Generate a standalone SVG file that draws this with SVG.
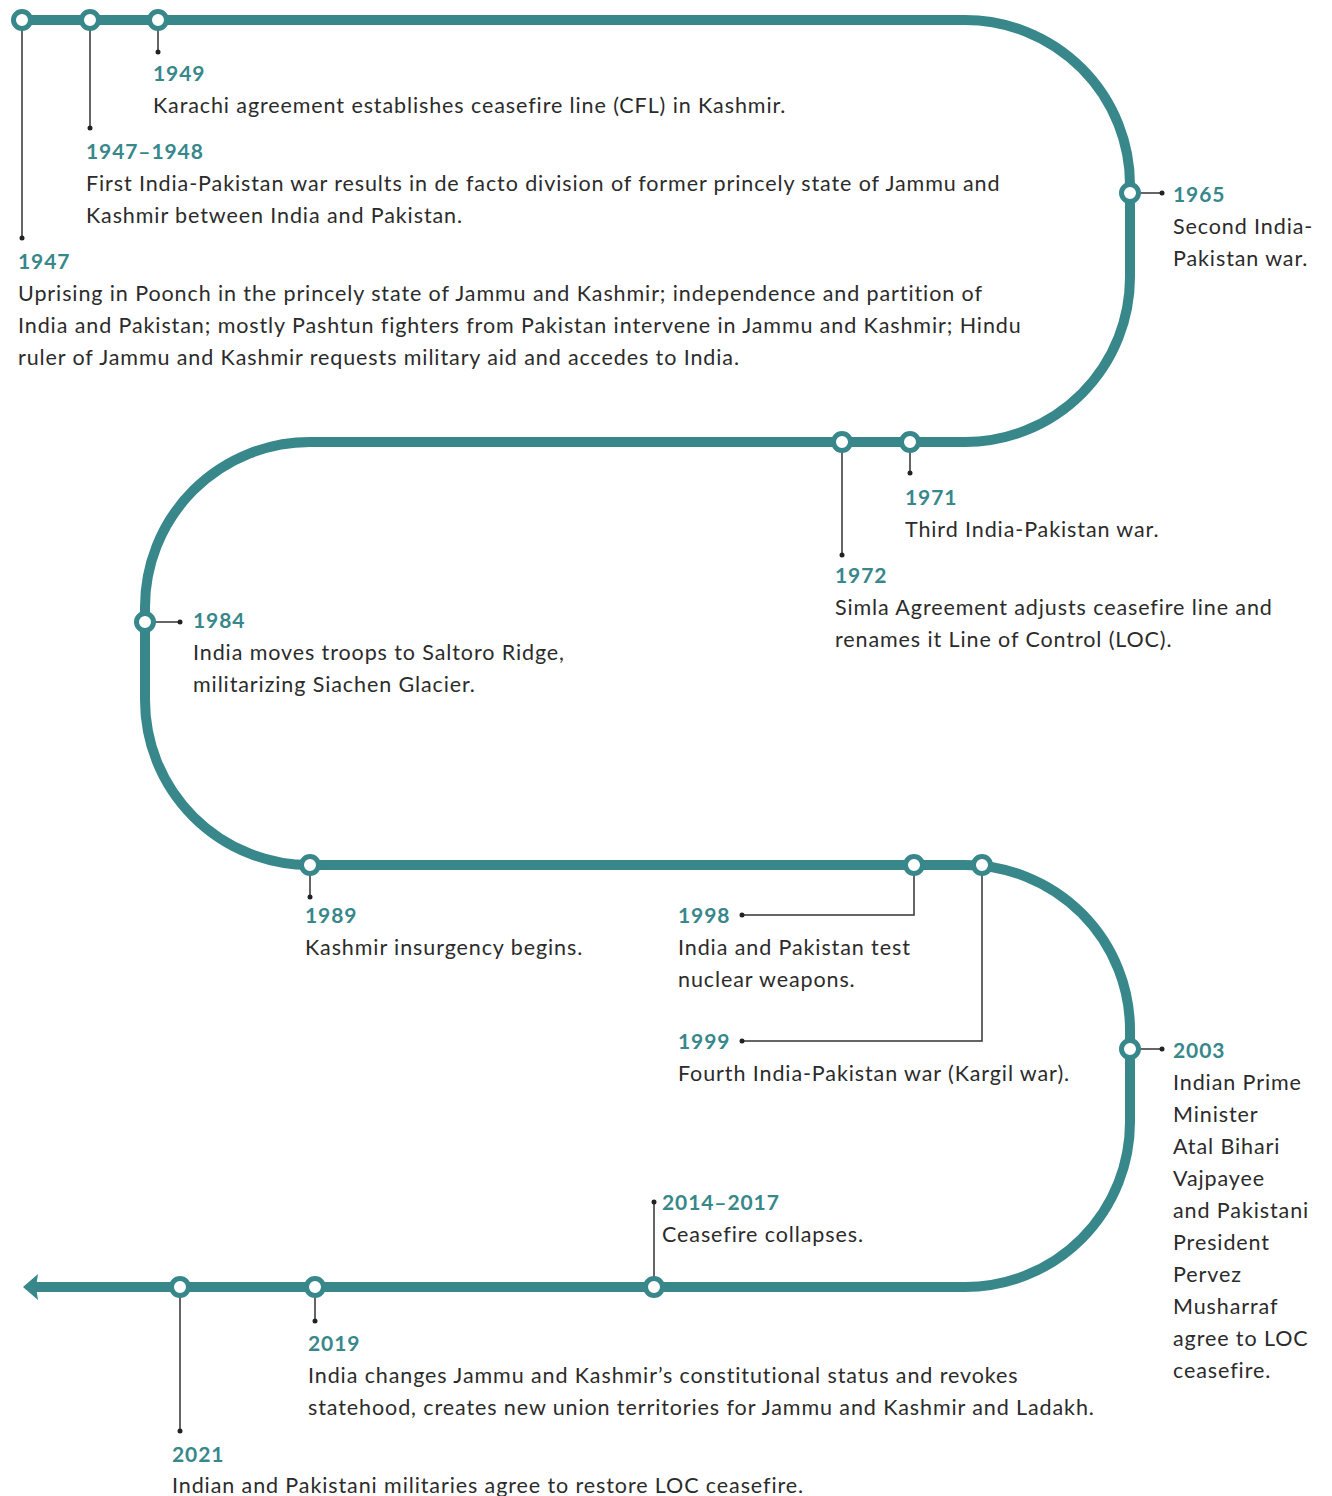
<svg xmlns="http://www.w3.org/2000/svg" width="1332" height="1496" viewBox="0 0 1332 1496">
<style>
.track{fill:none;stroke:#37878b;stroke-width:10}
.node{fill:#fff;stroke:#37878b;stroke-width:5}
.lead{fill:none;stroke:#333;stroke-width:1.5}
.dot{fill:#222}
.yr{font-family:Lato,"Liberation Sans",sans-serif;font-weight:bold;font-size:21px;letter-spacing:0.9px;fill:#37878b}
.tx{font-family:Lato,"Liberation Sans",sans-serif;font-size:21.5px;letter-spacing:0.9px;fill:#2b2b2b;font-variant-ligatures:none}
</style>
<rect width="1332" height="1496" fill="#fff"/>
<g id="connectors">
<path class="track" d="M 22 20 H 965 A 165 165 0 0 1 1130 185 V 277 A 165 165 0 0 1 965 442 H 310 A 165 165 0 0 0 145 607 V 700 A 165 165 0 0 0 310 865 H 965 A 165 165 0 0 1 1130 1030 V 1122 A 165 165 0 0 1 965 1287 H 34"/>
<polygon points="23,1287 38,1274 36,1287 38,1300" fill="#37878b"/>
<path class="lead" d="M22 20 V238 M90 20 V128 M158 20 V52 M1130 193 H1162 M910 442 V473 M842 442 V555 M145 622 H180 M310 865 V897 M914 865 V915 H742 M982 865 V1041 H742 M1130 1049 H1162 M654 1287 V1202 M315 1287 V1321 M180 1287 V1431"/>
<g class="dot">
<circle cx="22" cy="238" r="2.5"/><circle cx="90" cy="128" r="2.5"/><circle cx="158" cy="52" r="2.5"/>
<circle cx="1162" cy="193" r="2.5"/><circle cx="910" cy="473" r="2.5"/><circle cx="842" cy="555" r="2.5"/>
<circle cx="180" cy="622" r="2.5"/><circle cx="310" cy="897" r="2.5"/><circle cx="742" cy="915" r="2.5"/>
<circle cx="742" cy="1041" r="2.5"/><circle cx="1162" cy="1049" r="2.5"/><circle cx="654" cy="1202" r="2.5"/>
<circle cx="315" cy="1321" r="2.5"/><circle cx="180" cy="1431" r="2.5"/>
</g>
</g>
<g id="n1947"><circle class="node" cx="22" cy="20" r="8.5"/>
<text class="yr" x="18" y="269">1947</text>
<text class="tx" x="18" y="301">Uprising in Poonch in the princely state of Jammu and Kashmir; independence and partition of</text>
<text class="tx" x="18" y="333">India and Pakistan; mostly Pashtun fighters from Pakistan intervene in Jammu and Kashmir; Hindu</text>
<text class="tx" x="18" y="365">ruler of Jammu and Kashmir requests military aid and accedes to India.</text></g>
<g id="n1947-1948"><circle class="node" cx="90" cy="20" r="8.5"/>
<text class="yr" x="86" y="159">1947–1948</text>
<text class="tx" x="86" y="191">First India-Pakistan war results in de facto division of former princely state of Jammu and</text>
<text class="tx" x="86" y="223">Kashmir between India and Pakistan.</text></g>
<g id="n1949"><circle class="node" cx="158" cy="20" r="8.5"/>
<text class="yr" x="153" y="81">1949</text>
<text class="tx" x="153" y="113">Karachi agreement establishes ceasefire line (CFL) in Kashmir.</text></g>
<g id="n1965"><circle class="node" cx="1130" cy="193" r="8.5"/>
<text class="yr" x="1173" y="202">1965</text>
<text class="tx" x="1173" y="234">Second India-</text>
<text class="tx" x="1173" y="266">Pakistan war.</text></g>
<g id="n1971"><circle class="node" cx="910" cy="442" r="8.5"/>
<text class="yr" x="905" y="505">1971</text>
<text class="tx" x="905" y="537">Third India-Pakistan war.</text></g>
<g id="n1972"><circle class="node" cx="842" cy="442" r="8.5"/>
<text class="yr" x="835" y="583">1972</text>
<text class="tx" x="835" y="615">Simla Agreement adjusts ceasefire line and</text>
<text class="tx" x="835" y="647">renames it Line of Control (LOC).</text></g>
<g id="n1984"><circle class="node" cx="145" cy="622" r="8.5"/>
<text class="yr" x="193" y="628">1984</text>
<text class="tx" x="193" y="660">India moves troops to Saltoro Ridge,</text>
<text class="tx" x="193" y="692">militarizing Siachen Glacier.</text></g>
<g id="n1989"><circle class="node" cx="310" cy="865" r="8.5"/>
<text class="yr" x="305" y="923">1989</text>
<text class="tx" x="305" y="955">Kashmir insurgency begins.</text></g>
<g id="n1998"><circle class="node" cx="914" cy="865" r="8.5"/>
<text class="yr" x="678" y="923">1998</text>
<text class="tx" x="678" y="955">India and Pakistan test</text>
<text class="tx" x="678" y="987">nuclear weapons.</text></g>
<g id="n1999"><circle class="node" cx="982" cy="865" r="8.5"/>
<text class="yr" x="678" y="1049">1999</text>
<text class="tx" x="678" y="1081">Fourth India-Pakistan war (Kargil war).</text></g>
<g id="n2003"><circle class="node" cx="1130" cy="1049" r="8.5"/>
<text class="yr" x="1173" y="1058">2003</text>
<text class="tx" x="1173" y="1090">Indian Prime</text>
<text class="tx" x="1173" y="1122">Minister</text>
<text class="tx" x="1173" y="1154">Atal Bihari</text>
<text class="tx" x="1173" y="1186">Vajpayee</text>
<text class="tx" x="1173" y="1218">and Pakistani</text>
<text class="tx" x="1173" y="1250">President</text>
<text class="tx" x="1173" y="1282">Pervez</text>
<text class="tx" x="1173" y="1314">Musharraf</text>
<text class="tx" x="1173" y="1346">agree to LOC</text>
<text class="tx" x="1173" y="1378">ceasefire.</text></g>
<g id="n2014-2017"><circle class="node" cx="654" cy="1287" r="8.5"/>
<text class="yr" x="662" y="1210">2014–2017</text>
<text class="tx" x="662" y="1242">Ceasefire collapses.</text></g>
<g id="n2019"><circle class="node" cx="315" cy="1287" r="8.5"/>
<text class="yr" x="308" y="1351">2019</text>
<text class="tx" x="308" y="1383">India changes Jammu and Kashmir’s constitutional status and revokes</text>
<text class="tx" x="308" y="1415">statehood, creates new union territories for Jammu and Kashmir and Ladakh.</text></g>
<g id="n2021"><circle class="node" cx="180" cy="1287" r="8.5"/>
<text class="yr" x="172" y="1462">2021</text>
<text class="tx" x="172" y="1493">Indian and Pakistani militaries agree to restore LOC ceasefire.</text></g>
</svg>
